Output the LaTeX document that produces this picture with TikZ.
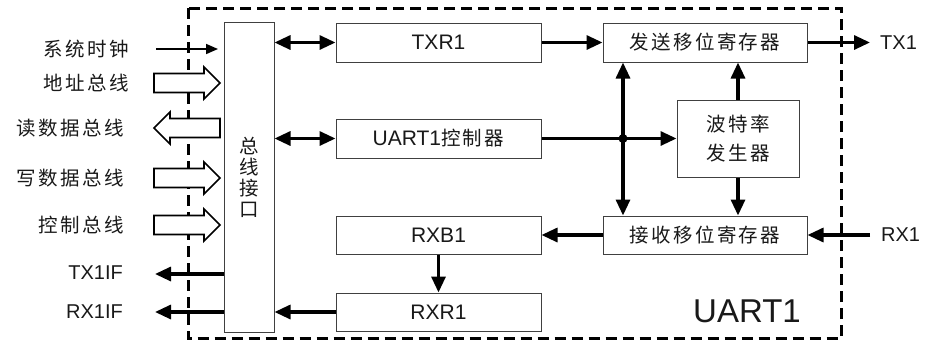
\documentclass[tikz,border=0pt]{standalone}
\usepackage{fontspec}
\setmainfont{Liberation Sans}
\newfontfamily\cjk[LetterSpace=12]{Noto Sans CJK SC}
\usetikzlibrary{arrows.meta}
\newcommand\zhtext[1]{{\cjk\fontsize{19.5}{21}\selectfont #1}}
\begin{document}
\begin{tikzpicture}[x=1pt,y=-1pt,
  box/.style={draw=black!75, line width=1pt, fill=white, inner sep=0pt,
    font=\fontsize{21}{24}\selectfont, text=black!90},
  conn/.style={line width=3.2pt, -{Triangle[length=16pt,width=14pt]}},
  biconn/.style={line width=3.2pt, {Triangle[length=16pt,width=14pt]}-{Triangle[length=16pt,width=14pt]}},
  thinconn/.style={line width=1.7pt, -{Triangle[length=12pt,width=10pt]}},
  lbl/.style={inner sep=0pt, font=\fontsize{20}{24}\selectfont, text=black!90},
  uartbox/.style={line width=3pt, dash pattern=on 11pt off 6pt},
  busR/.pic={\draw[line width=1.7pt, fill=white] (-33,-9.5) -- (17,-9.5) -- (17,-16) -- (33,0) -- (17,16) -- (17,9.5) -- (-33,9.5) -- cycle;},
  busL/.pic={\draw[line width=1.7pt, fill=white] (33,-9.5) -- (-17,-9.5) -- (-17,-16) -- (-33,0) -- (-17,16) -- (-17,9.5) -- (33,9.5) -- cycle;}
]
\useasboundingbox (0,0) rectangle (926,341);
% dashed module outline
\draw[uartbox] (188,8) rectangle (841,338.5);
\node[inner sep=0pt, font=\fontsize{33}{36}\selectfont, text=black!90] (ulabel) at (747,311) {UART1};

% blocks
\node[box, minimum width=50, minimum height=310, align=center,
  font=\cjk\fontsize{19.5}{21}\selectfont] (bus) at (249,177) {总\\线\\接\\口};
\node[box, minimum width=205, minimum height=39] (txr) at (438.5,42.5) {TXR1};
\node[box, minimum width=205, minimum height=39] (ctl) at (438.5,138.5) {UART1\zhtext{控制器}};
\node[box, minimum width=205, minimum height=38] (rxb) at (438.5,235) {RXB1};
\node[box, minimum width=205, minimum height=38] (rxr) at (438.5,312) {RXR1};
\node[box, minimum width=204, minimum height=39] (tsr) at (705,42.5) {\zhtext{发送移位寄存器}};
\node[box, minimum width=122, minimum height=77, align=center,
  font=\cjk\fontsize{19.5}{29}\selectfont] (baud) at (738,138.5) {波特率\\发生器};
\node[box, minimum width=204, minimum height=38] (rsr) at (705,235) {\zhtext{接收移位寄存器}};

% left side signals
\node[lbl, anchor=east] (lclk) at (129,49) {\zhtext{系统时钟}};
\node[lbl, anchor=east] (laddr) at (129,83) {\zhtext{地址总线}};
\node[lbl, anchor=east] (lrd) at (124,128) {\zhtext{读数据总线}};
\node[lbl, anchor=east] (lwr) at (124,178) {\zhtext{写数据总线}};
\node[lbl, anchor=east] (lctl) at (124,225) {\zhtext{控制总线}};
\node[lbl, anchor=east] (ltxif) at (123,273) {TX1IF};
\node[lbl, anchor=east] (lrxif) at (123,312) {RX1IF};
\node[lbl, anchor=west] (ltx) at (880,42.5) {TX1};
\node[lbl, anchor=west] (lrx) at (881,235) {RX1};

\coordinate (clkstart) at (156,49);
\coordinate (clkend) at (218,49);
\coordinate (txifend) at (155,274);
\coordinate (rxifend) at (155,312);
\coordinate (txend) at (870,42.5);
\coordinate (rxstart) at (870,235);
\coordinate (dot) at (623,138.5);

\draw[thinconn] (clkstart) -- (clkend);
\pic at (187,83) {busR};
\pic at (187,128) {busL};
\pic at (187,178) {busR};
\pic at (187,225) {busR};

\draw[conn] (txifend -| bus.west) -- (txifend);
\draw[conn] (rxifend -| bus.west) -- (rxifend);

% internal connections
\draw[biconn] (txr.west -| bus.east) -- (txr.west);
\draw[biconn] (ctl.west -| bus.east) -- (ctl.west);
\draw[conn] (txr.east) -- (tsr.west);
\draw[line width=3.2pt] (ctl.east) -- (dot);
\draw[conn] (dot) -- (baud.west);
\draw[conn] (dot) -- (dot |- tsr.south);
\draw[conn] (dot) -- (dot |- rsr.north);
\fill (dot) circle (4.5);
\draw[conn] (baud.north) -- (baud.north |- tsr.south);
\draw[conn] (baud.south) -- (baud.south |- rsr.north);
\draw[conn] (rsr.west) -- (rxb.east);
\draw[conn] (rxb.south) -- (rxr.north);
\draw[conn] (rxr.west) -- (rxr.west -| bus.east);
\draw[conn] (tsr.east) -- (txend);
\draw[conn] (rxstart) -- (rsr.east);
\end{tikzpicture}
\end{document}
